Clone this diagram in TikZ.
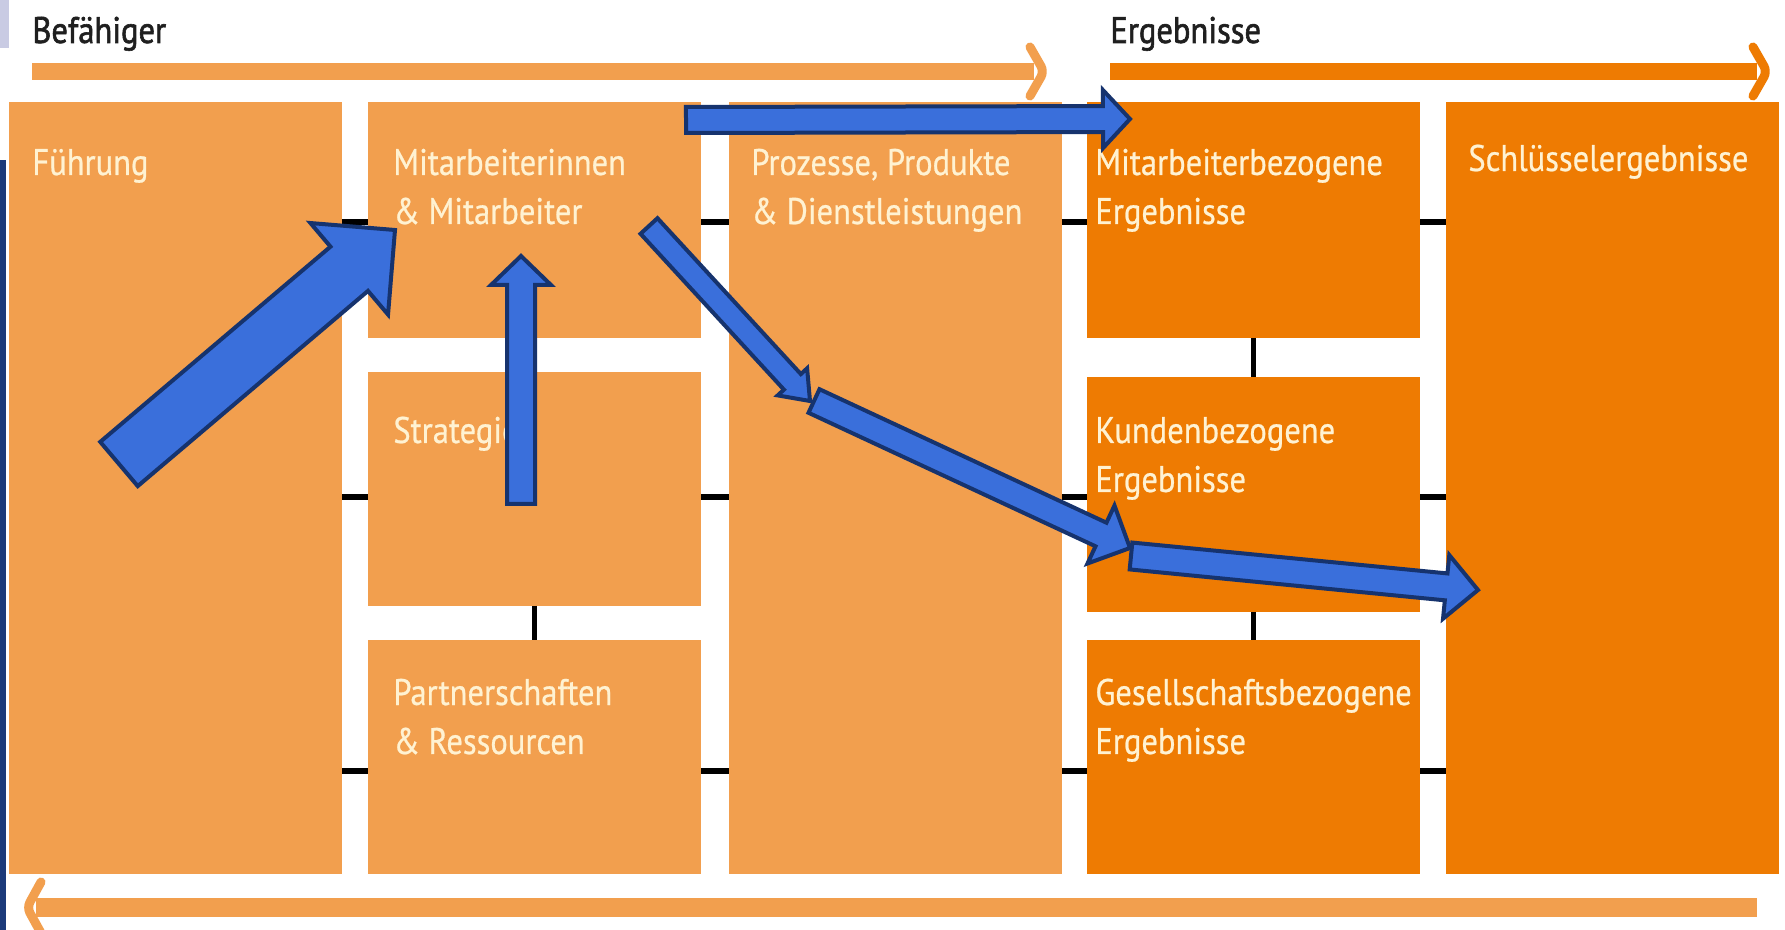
\documentclass[tikz,border=0pt]{standalone}
\usepackage{fontspec}
\setmainfont{PT Sans}[FakeStretch=0.88, FakeBold=0.6]
\newfontfamily\ttlfont{PT Sans}[FakeStretch=0.88, FakeBold=1.6]
\usetikzlibrary{calc}
\definecolor{lorange}{HTML}{F29F4E}
\definecolor{dorange}{HTML}{EE7B02}
\definecolor{cream}{HTML}{FFF2D2}
\definecolor{abl}{HTML}{3A6FDB}
\definecolor{anv}{HTML}{16336E}
\definecolor{navyedge}{HTML}{1B3A7A}
\definecolor{lavend}{HTML}{C9CBE3}
\newcommand\twolines[1]{\begin{tabular}[t]{@{}l@{}}#1\end{tabular}}
\newcommand\bluearrow[6]{%
  \coordinate (#1h) at ($(#3)!#6!(#2)$);
  \draw[barrow] ($(#2)!#4!90:(#3)$) -- ($(#1h)!#4!90:(#3)$) -- ($(#1h)!#5!90:(#3)$) -- (#3) -- ($(#1h)!#5!-90:(#3)$) -- ($(#1h)!#4!-90:(#3)$) -- ($(#2)!#4!-90:(#3)$) -- cycle;}
\begin{document}
\begin{tikzpicture}[x=0.5pt,y=-0.5pt,
  box/.style={draw=none, inner sep=0pt, outer sep=0pt, anchor=north west, minimum width=166.5pt},
  lbox/.style={box, fill=lorange},
  dbox/.style={box, fill=dorange},
  txt/.style={anchor=base west, inner sep=0pt, text=cream, font=\fontsize{18.5}{24.5}\selectfont},
  ttl/.style={anchor=base west, inner sep=0pt, text=black!88, font=\ttlfont\fontsize{18.5}{24.5}\selectfont},
  tick/.style={line width=3pt, black},
  vtick/.style={line width=2.6pt, black},
  chev/.style={line width=4.5pt, line cap=round, line join=round, rounded corners=3pt},
  barrow/.style={fill=abl, draw=anv, line width=2pt, line join=miter},
]
\fill[white] (0,0) rectangle (1785,930);
\useasboundingbox (0,0) rectangle (1785,930);
\fill[lavend] (0,0) rectangle (9,48);
\fill[navyedge] (0,160) rectangle (6,930);

% titles and flow bars
\node[ttl] (bef) at (32,43) {Befähiger};
\node[ttl] (erg) at (1110,43) {Ergebnisse};
\fill[lorange] (32,63) rectangle (1034,80);
\draw[lorange, chev] (1030,47) -- (1044,71.5) -- (1030,96);
\fill[dorange] (1110,63) rectangle (1757,80);
\draw[dorange, chev] (1753,47) -- (1767,71.5) -- (1753,96);
\fill[lorange] (36,898) rectangle (1757,917);
\draw[lorange, chev] (41,882) -- (27,907.5) -- (41,933);

% boxes
\node[lbox, minimum height=386pt] (fuehrung) at (9,102) {};
\node[lbox, minimum height=118pt] (mit) at (368,102) {};
\node[lbox, minimum height=117pt] (strat) at (368,372) {};
\node[lbox, minimum height=117pt] (partner) at (368,640) {};
\node[lbox, minimum height=386pt] (proz) at (729,102) {};
\node[dbox, minimum height=118pt] (mbez) at (1087,102) {};
\node[dbox, minimum height=117.5pt] (kund) at (1087,377) {};
\node[dbox, minimum height=117pt] (gesell) at (1087,640) {};
\node[dbox, minimum height=386pt] (schl) at (1446,102) {};

% connector ticks
\foreach \yy in {222,497,771} {
  \coordinate (r\yy) at (0,\yy);
  \draw[tick] (fuehrung.east |- r\yy) -- (mit.west |- r\yy);
  \draw[tick] (mit.east |- r\yy) -- (proz.west |- r\yy);
  \draw[tick] (proz.east |- r\yy) -- (mbez.west |- r\yy);
  \draw[tick] (mbez.east |- r\yy) -- (schl.west |- r\yy);
}
\draw[vtick] (mit.south) -- (strat.north);
\draw[vtick] (strat.south) -- (partner.north);
\draw[vtick] (mbez.south) -- (kund.north);
\draw[vtick] (kund.south) -- (gesell.north);

% texts
\node[txt] (tf) at ($(fuehrung.north west)+(23,73)$) {Führung};
\node[txt] (tm) at ($(mit.north west)+(25,73)$) {\twolines{Mitarbeiterinnen\\\& Mitarbeiter}};
\node[txt] (ts) at ($(strat.north west)+(25,71)$) {Strategie};
\node[txt] (tp) at ($(partner.north west)+(25,65)$) {\twolines{Partnerschaften\\\& Ressourcen}};
\node[txt] (tpr) at ($(proz.north west)+(22,73)$) {\twolines{Prozesse, Produkte\\\& Dienstleistungen}};
\node[txt] (tmb) at ($(mbez.north west)+(8,73)$) {\twolines{Mitarbeiterbezogene\\Ergebnisse}};
\node[txt] (tk) at ($(kund.north west)+(8,66)$) {\twolines{Kundenbezogene\\Ergebnisse}};
\node[txt] (tg) at ($(gesell.north west)+(8,65)$) {\twolines{Gesellschaftsbezogene\\Ergebnisse}};
\node[txt] (tsc) at ($(schl.north west)+(22,69)$) {Schlüsselergebnisse};

% blue arrows
\coordinate (a1t) at (119,464); \coordinate (a1e) at (395,230);
\bluearrow{a1}{a1t}{a1e}{14.5pt}{30pt}{30pt}
\coordinate (a2t) at (521,504); \coordinate (a2e) at (521,256);
\bluearrow{a2}{a2t}{a2e}{7pt}{15pt}{14.5pt}
\coordinate (a3t) at (649,226); \coordinate (a3e) at (810,401);
\bluearrow{a3}{a3t}{a3e}{5.75pt}{10pt}{13pt}
\coordinate (a4t) at (814,401); \coordinate (a4e) at (1130,548);
\bluearrow{a4}{a4t}{a4e}{6.5pt}{16pt}{16pt}
\coordinate (a5t) at (1131,556); \coordinate (a5e) at (1478,590);
\bluearrow{a5}{a5t}{a5e}{6.75pt}{16pt}{16pt}
\coordinate (a6t) at (686,120); \coordinate (a6e) at (1130,119);
\bluearrow{a6}{a6t}{a6e}{6.5pt}{14.5pt}{13.5pt}
\end{tikzpicture}
\end{document}
